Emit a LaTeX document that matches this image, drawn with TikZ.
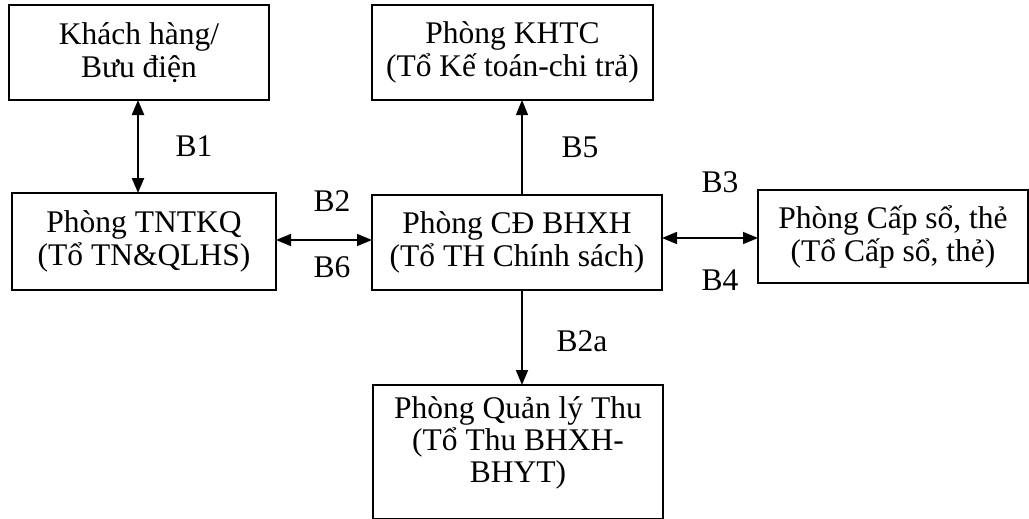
\documentclass[tikz,border=0pt]{standalone}
\usepackage{fontspec}
\setmainfont{Liberation Serif}
\usetikzlibrary{arrows.meta}
\begin{document}
\begin{tikzpicture}[x=1pt,y=-1pt,
  box/.style={draw=black, line width=1.6pt, inner sep=0pt, align=center,
    font=\fontsize{31.5}{33}\selectfont},
  txt/.style={inner sep=0pt, align=center, font=\fontsize{31.5}{32}\selectfont},
  lbl/.style={inner sep=0pt, font=\fontsize{31.5}{33}\selectfont},
  conn/.style={line width=1.5pt, -{Triangle[length=15pt,width=12pt]}},
  dconn/.style={line width=1.5pt, {Triangle[length=15pt,width=12pt]}-{Triangle[length=15pt,width=12pt]}}]
\useasboundingbox (0,0) rectangle (1029,519);

\node[box, minimum width=260pt, minimum height=95pt] (kh) at (139,52.5) {Khách hàng/\\Bưu điện};
\node[box, minimum width=264pt, minimum height=97pt] (tn) at (144,241.5) {Phòng TNTKQ\\(Tổ TN\&QLHS)};
\node[box, minimum width=281pt, minimum height=95pt] (khtc) at (512.5,52.5) {Phòng KHTC\\(Tổ Kế toán-chi trả)};
\node[box, minimum width=290pt, minimum height=95pt] (cd) at (517,242.5) {Phòng CĐ BHXH\\(Tổ TH Chính sách)};
\node[box, minimum width=270pt, minimum height=93pt] (cap) at (893,236.5) {Phòng Cấp sổ, thẻ\\(Tổ Cấp sổ, thẻ)};
\node[box, minimum width=290pt, minimum height=134pt] (thu) at (518,452) {};
\node[txt] (thut) at (518,443) {Phòng Quản lý Thu\\(Tổ Thu BHXH-\\BHYT)};

\coordinate (b1top) at (138,100);
\coordinate (b1bot) at (138,193);
\draw[dconn, line width=2.2pt] (b1top) -- (b1bot);
\coordinate (b5top) at (522,100);
\coordinate (b5bot) at (522,195);
\draw[conn, line width=1.2pt] (b5bot) -- (b5top);
\coordinate (b2l) at (276,240);
\coordinate (b2r) at (372,240);
\draw[dconn] (b2l) -- (b2r);
\coordinate (b3l) at (662,238);
\coordinate (b3r) at (758,238);
\draw[dconn] (b3l) -- (b3r);
\coordinate (b2atop) at (522,290);
\coordinate (b2abot) at (522,385);
\draw[conn, line width=1.8pt] (b2atop) -- (b2abot);

\node[lbl] (lb1) at (194,146) {B1};
\node[lbl] (lb5) at (580,147) {B5};
\node[lbl] (lb2) at (332,201) {B2};
\node[lbl] (lb6) at (332,267) {B6};
\node[lbl] (lb3) at (720,182) {B3};
\node[lbl] (lb4) at (720,280) {B4};
\node[lbl] (lb2a) at (582,341) {B2a};
\end{tikzpicture}
\end{document}
